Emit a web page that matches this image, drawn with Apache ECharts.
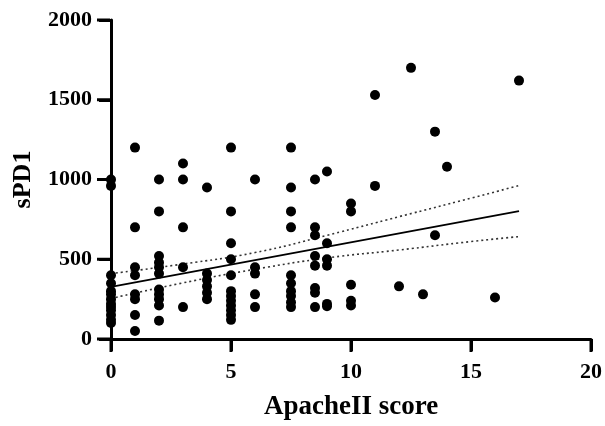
<!doctype html>
<html lang="en">
<head>
	<meta charset="UTF-8">
	<title>sPD1 vs ApacheII score</title>
	<script src="https://cdn.jsdelivr.net/npm/echarts@6/dist/echarts.min.js"></script>
	<style>
		html, body { margin: 0; padding: 0; background: #fff; }
		#main { width: 605px; height: 426px; }
	</style>
</head>
<body>
<div id="main"></div>
<script type="text/javascript">
	// ApacheII score (x) and sPD1 (y) of each patient
	var scoreX = [
		0, 0, 0, 0, 0, 0, 0, 0, 0, 0, 0, 0, 0,
		1, 1, 1, 1, 1, 1, 1, 1,
		2, 2, 2, 2, 2, 2, 2, 2, 2, 2, 2,
		3, 3, 3, 3, 3,
		4, 4, 4, 4, 4, 4,
		5, 5, 5, 5, 5, 5, 5, 5, 5, 5, 5, 5,
		6, 6, 6, 6, 6,
		7.5, 7.5, 7.5, 7.5, 7.5, 7.5, 7.5, 7.5, 7.5, 7.5,
		8.5, 8.5, 8.5, 8.5, 8.5, 8.5, 8.5, 8.5,
		9, 9, 9, 9, 9, 9,
		10, 10, 10, 10, 10,
		11, 11, 12, 12.5, 13, 13.5, 13.5, 14, 16, 17
	];
	var spd1Y = [
		1000, 960, 400, 350, 300, 280, 250, 220, 200, 180, 150, 120, 100,
		1200, 700, 450, 400, 280, 250, 150, 50,
		1000, 800, 520, 480, 450, 410, 310, 280, 250, 210, 115,
		1100, 1000, 700, 450, 200,
		950, 410, 370, 330, 290, 250,
		1200, 800, 600, 500, 400, 300, 270, 240, 210, 180, 150, 120,
		1000, 450, 410, 280, 200,
		1200, 950, 800, 700, 400, 350, 300, 270, 230, 200,
		1000, 700, 650, 520, 460, 320, 290, 200,
		1050, 600, 500, 460, 220, 205,
		850, 800, 340, 240, 210,
		1530, 960, 330, 1700, 280, 1300, 650, 1080, 260, 1620
	];

	// fitted line and its 95% band
	var fitX = [0, 17];
	var fitY = [327, 802];
	var bandX = [0, 3, 6, 9, 12, 15, 17];
	var bandUpper = [410, 470, 542, 650, 767, 883, 962];
	var bandLower = [254, 352, 437, 508, 558, 611, 642];

	var xTicks = [0, 5, 10, 15, 20];
	var yTicks = [0, 500, 1000, 1500, 2000];

	function pairs(xs, ys) {
		var out = [];
		for (var i = 0; i < xs.length; i++) out.push([xs[i], ys[i]]);
		return out;
	}

	var font = '"Liberation Serif", "Times New Roman", serif';
	var numStyle = { fontFamily: font, fontWeight: 'bold', fontSize: 22, color: '#000' };
	var tickStyle = { show: true, inside: false, length: 12, lineStyle: { color: '#000', width: 3 } };

	// ticks also drawn as filled blocks inside the labels, in case axisTick stays hidden
	var myChart = echarts.init(document.getElementById('main'));
	var option = {
		animation: false,
		backgroundColor: '#fff',
		grid: { left: 111, top: 20, right: 13, bottom: 86 },
		xAxis: {
			type: 'value',
			min: xTicks[0], max: xTicks[xTicks.length - 1], interval: 5,
			name: 'ApacheII score',
			nameLocation: 'middle',
			nameGap: 55,
			nameTextStyle: { fontFamily: font, fontWeight: 'bold', fontSize: 27, color: '#000' },
			axisLine: { show: true, onZero: false, lineStyle: { color: '#000', width: 3 } },
			axisTick: tickStyle,
			splitLine: { show: false },
			axisLabel: {
				margin: 1,
				formatter: function (v) { return '{t| }\n{v|' + v + '}'; },
				rich: {
					t: { width: 3, height: 12, lineHeight: 12, fontSize: 1, backgroundColor: '#000' },
					v: Object.assign({ lineHeight: 40 }, numStyle)
				}
			}
		},
		yAxis: {
			type: 'value',
			min: yTicks[0], max: yTicks[yTicks.length - 1], interval: 500,
			name: 'sPD1',
			nameLocation: 'middle',
			nameGap: 75,
			nameRotate: 90,
			nameTextStyle: { fontFamily: font, fontWeight: 'bold', fontSize: 26, color: '#000' },
			axisLine: { show: true, onZero: false, lineStyle: { color: '#000', width: 3 } },
			axisTick: tickStyle,
			splitLine: { show: false },
			axisLabel: {
				margin: 1,
				formatter: function (v) { return '{v|' + v + '}{g| }{t| }'; },
				rich: {
					v: numStyle,
					g: { width: 5, height: 3, fontSize: 1 },
					t: { width: 13, height: 3, fontSize: 1, backgroundColor: '#000' }
				}
			}
		},
		series: [
			{
				type: 'line',
				data: pairs(bandX, bandUpper),
				smooth: true,
				showSymbol: false,
				lineStyle: { color: '#333', width: 1.6, type: [2, 3] },
				z: 2
			},
			{
				type: 'line',
				data: pairs(bandX, bandLower),
				smooth: true,
				showSymbol: false,
				lineStyle: { color: '#333', width: 1.6, type: [2, 3] },
				z: 2
			},
			{
				type: 'line',
				data: pairs(fitX, fitY),
				showSymbol: false,
				lineStyle: { color: '#000', width: 1.8 },
				z: 3
			},
			{
				type: 'scatter',
				data: pairs(scoreX, spd1Y),
				symbol: 'circle',
				symbolSize: 10,
				itemStyle: { color: '#000', opacity: 1 },
				z: 4
			}
		]
	};
	myChart.setOption(option);
</script>
</body>
</html>
